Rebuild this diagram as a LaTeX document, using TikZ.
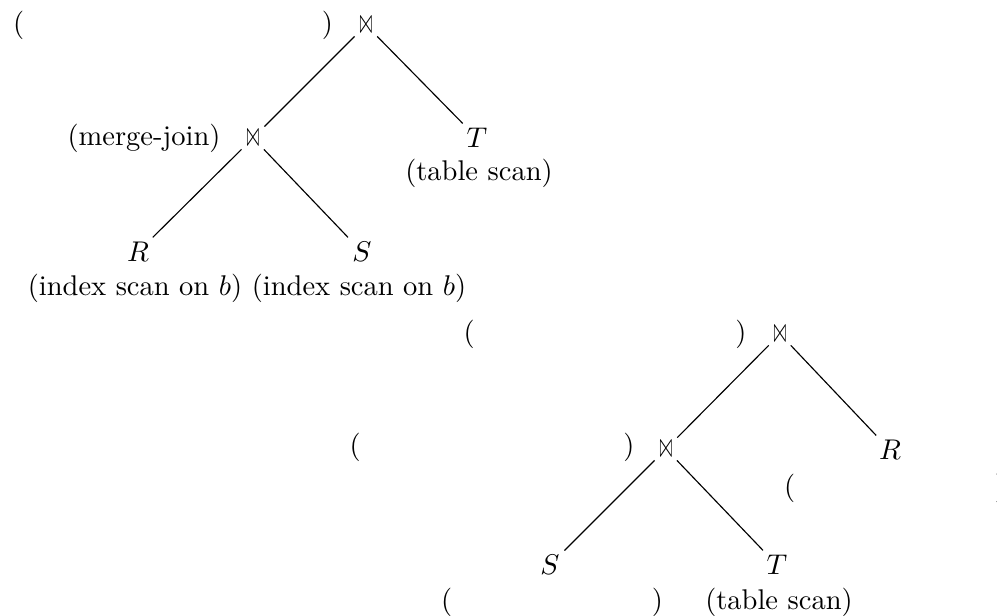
\documentclass[tikz,border=0pt]{standalone}
\usepackage{graphicx}
\newcommand\joinsym{\resizebox{4.8pt}{4.6pt}{$\scriptscriptstyle\bowtie$}}
\begin{document}
\begin{tikzpicture}[x=0.35088pt,y=-0.35088pt,
  joinnode/.style={inner sep=1.5pt},
  leafnode/.style={inner sep=1.5pt},
  labnode/.style={inner sep=0pt},
  edgeline/.style={line width=0.4pt}]
\useasboundingbox (0,0) rectangle (997,616);
% tree 1
\node[joinnode] (J1) at (366,25) {\joinsym};
\node[labnode] (L1) at (173,25) {(\hspace{104.5pt})};
\node[joinnode] (J2) at (253,138) {\joinsym};
\node[labnode] (L2) at (144,138) {(merge-join)};
\node[leafnode] (T1) at (477,138) {$T$};
\node[labnode] (T1l) at (479,173) {(table scan)};
\node[leafnode] (R1) at (138,252) {$R$};
\node[labnode] (R1l) at (135,288) {(index scan on $b$)};
\node[leafnode] (S1) at (362,252) {$S$};
\node[labnode] (S1l) at (359,288) {(index scan on $b$)};
\draw[edgeline] (J1) -- (J2);
\draw[edgeline] (J1) -- (T1);
\draw[edgeline] (J2) -- (R1);
\draw[edgeline] (J2) -- (S1);
% tree 2
\node[joinnode] (J3) at (780,334) {\joinsym};
\node[labnode] (L3) at (605,334) {(\hspace{91.5pt})};
\node[joinnode] (J4) at (666,449) {\joinsym};
\node[labnode] (L4) at (492,447) {(\hspace{92.2pt})};
\node[leafnode] (R2) at (890,450) {$R$};
\node[labnode] (R2l) at (895,488) {(\hspace{70.1pt})};
\node[leafnode] (S2) at (550,565) {$S$};
\node[labnode] (S2l) at (552,602) {(\hspace{70.1pt})};
\node[leafnode] (T2) at (777,565) {$T$};
\node[labnode] (T2l) at (779,602) {(table scan)};
\draw[edgeline] (J3) -- (J4);
\draw[edgeline] (J3) -- (R2);
\draw[edgeline] (J4) -- (S2);
\draw[edgeline] (J4) -- (T2);
\end{tikzpicture}
\end{document}
